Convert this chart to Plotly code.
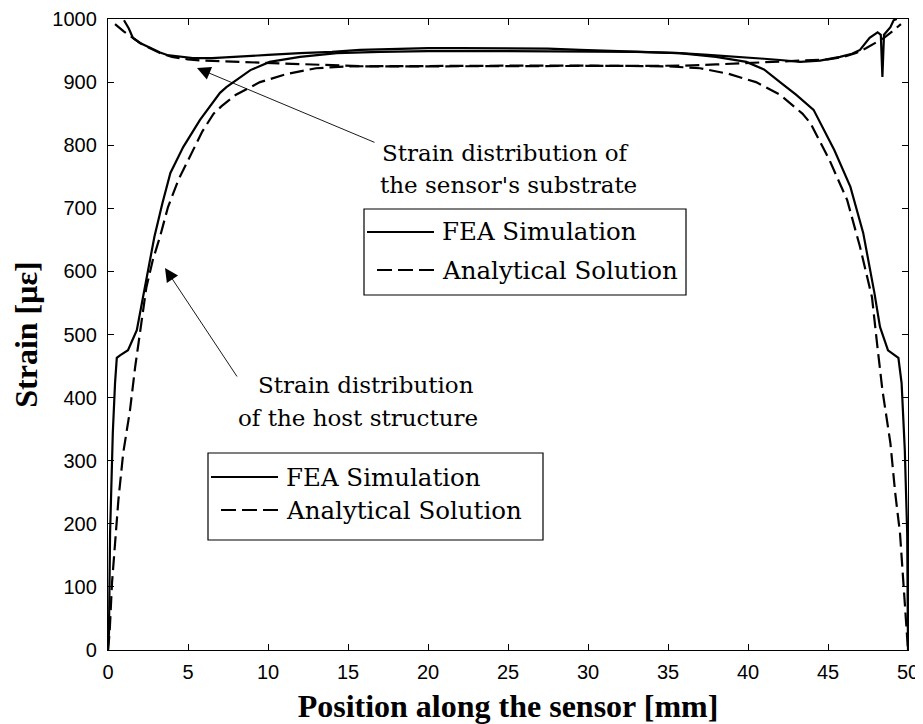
import plotly.graph_objects as go

# ---------------- data ----------------
sub_fea_x = [1.0, 1.3, 1.56, 2.0, 2.6, 3.25, 3.7, 4.5, 5.3, 6.5, 8.25, 10, 12, 14, 15.75, 18, 20, 22, 25,
             27.5, 29.5, 32, 34, 35.75, 37.5, 39.5, 41, 42, 43.25, 44.5, 45.75, 46.5, 47, 47.6, 48.1, 48.3,
             48.4, 48.5, 48.9, 49.1, 49.3]
sub_fea_y = [998, 985, 970, 962, 955, 947, 943, 940, 938, 938, 940, 943, 946, 948, 951, 953, 954, 954, 954,
             953, 951, 949, 947, 946, 943, 940, 937, 935, 932, 934, 940, 945, 951, 970, 979, 975,
             908, 975, 987, 998, 1000]

sub_ana_x = [0.44, 1.0, 1.56, 2.0, 2.6, 3.25, 4, 5, 6, 8, 10, 12, 14, 16, 20, 25, 30, 34, 36, 38, 40, 42,
             44, 45, 46, 46.75, 47.4, 48, 48.5, 49, 49.56]
sub_ana_y = [992, 980, 970, 962, 954, 946, 940, 936, 934, 932, 930, 928, 926, 925, 925, 925, 925, 925, 926,
             928, 930, 932, 934, 936, 940, 946, 954, 962, 970, 980, 992]

host_fea_x = [0, 0.06, 0.13, 0.3, 0.44, 0.55, 0.75, 1.25, 1.8, 2.0, 2.5, 2.9, 3.4, 3.9, 4.7, 5.75, 7.0,
              7.4, 8.9, 10.1, 12, 14.3, 17, 20, 25, 30, 33, 35.7, 38, 39.9, 41, 42, 43, 44.1, 45.4, 46.4,
              47.2, 47.9, 48.25, 48.75, 49.4, 49.6, 49.8, 49.95, 50]
host_fea_y = [0, 27, 185, 344, 423, 463, 467, 475, 507, 534, 597, 655, 708, 756, 797, 840, 883,
              892, 919, 932, 940, 946, 948, 949, 949, 949, 948, 946, 940, 932, 920, 900, 880, 856, 792, 734,
              661, 566, 512, 475, 463, 423, 317, 185, 0]

host_ana_x = [0, 0.1, 0.25, 0.44, 0.65, 0.95, 1.375, 1.7, 2.1, 2.4, 2.8, 3.25, 3.75, 4.4, 5.1, 5.9, 6.6,
              7.1, 8, 9.5, 11.2, 13, 15, 20, 25, 30, 35, 37, 38.8, 40.5, 42, 43.4, 43.9, 45.1, 46.2, 47,
              47.75, 48.06, 48.4, 48.9, 49.2, 49.5, 49.7, 49.9, 50]
host_ana_y = [0, 27, 106, 174, 238, 312, 380, 449, 523, 575, 618, 655, 702, 745, 781, 822, 850,
              862, 880, 900, 913, 922, 925, 926, 926, 926, 925, 922, 913, 900, 880, 850, 835, 776, 713, 639,
              559, 487, 412, 328, 249, 185, 106, 27, 0]

x_ticks = [0, 5, 10, 15, 20, 25, 30, 35, 40, 45, 50]
y_ticks = [0, 100, 200, 300, 400, 500, 600, 700, 800, 900, 1000]

legend_labels = ["FEA Simulation", "Analytical Solution"]

# ---------------- figure ----------------
# page body has an 8px default margin, so the figure is made 8px smaller
OFF = 8
W, H = 923 - OFF, 724 - OFF
SX0, SX1, SY0, SY1 = 108, 908, 19, 650          # plot area in screen pixels
L, R, T, B = SX0 - OFF, W + OFF - SX1, SY0 - OFF, H + OFF - SY1
PW, PH = SX1 - SX0, SY1 - SY0

def px(x):
    return (x - SX0) / PW

def py(y):
    return (SY1 - y) / PH

DASH = "14px,6px"
fig = go.Figure()
fig.add_trace(go.Scatter(x=sub_fea_x, y=sub_fea_y, mode="lines",
                         line=dict(color="black", width=2.2)))
fig.add_trace(go.Scatter(x=sub_ana_x, y=sub_ana_y, mode="lines",
                         line=dict(color="black", width=2.2, dash=DASH)))
fig.add_trace(go.Scatter(x=host_fea_x, y=host_fea_y, mode="lines",
                         line=dict(color="black", width=2.2)))
fig.add_trace(go.Scatter(x=host_ana_x, y=host_ana_y, mode="lines",
                         line=dict(color="black", width=2.2, dash=DASH)))

tick_font = dict(family="Liberation Sans, Arial", size=20, color="black")
title_font = dict(family="Liberation Serif, Times New Roman", size=32, color="black")
txt_font = dict(family="DejaVu Serif", size=23, color="black")
leg_font = dict(family="DejaVu Serif", size=24.5, color="black")

fig.update_layout(
    width=W, height=H, showlegend=False,
    paper_bgcolor="white", plot_bgcolor="white",
    margin=dict(l=L, r=R, t=T, b=B),
    xaxis=dict(range=[0, 50], tickvals=x_ticks, ticks="inside", ticklen=6, tickwidth=1,
               tickcolor="black", showline=True, linecolor="black", linewidth=1.3, mirror="ticks",
               showgrid=False, zeroline=False, tickfont=tick_font, ticklabelstandoff=4, automargin=False,
               title=dict(text="<b>Position along the sensor [mm]</b>", font=title_font, standoff=12)),
    yaxis=dict(range=[0, 1000], tickvals=y_ticks, ticks="inside", ticklen=6, tickwidth=1,
               tickcolor="black", showline=True, linecolor="black", linewidth=1.3, mirror="ticks",
               showgrid=False, zeroline=False, tickfont=tick_font, ticklabelstandoff=6, automargin=False,
               title=dict(text="<b>Strain [με]</b>", font=title_font, standoff=10)),
)

# annotation texts
def text(xp, yp, s, font):
    fig.add_annotation(x=px(xp), y=py(yp), xref="paper", yref="paper", text=s, showarrow=False,
                       font=font, xanchor="center", yanchor="middle")

text(505, 153, "Strain distribution of", txt_font)
text(508, 185, "the sensor's substrate", txt_font)
text(366, 385, "Strain distribution", txt_font)
text(358, 418, "of the host structure", txt_font)

# arrows
fig.add_annotation(x=px(197), y=py(68), xref="paper", yref="paper", ax=179, ay=75, text="",
                   showarrow=True, arrowhead=2, arrowsize=3, arrowwidth=0.9, arrowcolor="black")
fig.add_annotation(x=px(165), y=py(268), xref="paper", yref="paper", ax=73, ay=110, text="",
                   showarrow=True, arrowhead=2, arrowsize=3, arrowwidth=0.9, arrowcolor="black")

# custom legend boxes
def legend_box(x0, y0, x1, y1, ys):
    fig.add_shape(type="rect", xref="paper", yref="paper", x0=px(x0), x1=px(x1), y0=py(y0), y1=py(y1),
                  line=dict(color="black", width=1.2), fillcolor="white", layer="above")
    fig.add_shape(type="line", xref="paper", yref="paper", x0=px(x0 + 3), x1=px(x0 + 70),
                  y0=py(ys[0]), y1=py(ys[0]), line=dict(color="black", width=2.2), layer="above")
    fig.add_shape(type="line", xref="paper", yref="paper", x0=px(x0 + 13), x1=px(x0 + 70),
                  y0=py(ys[1]), y1=py(ys[1]), line=dict(color="black", width=2.2, dash="15px,6px"),
                  layer="above")
    for lab, yy in zip(legend_labels, ys):
        fig.add_annotation(x=px(x0 + 76), y=py(yy), xref="paper", yref="paper", text=lab,
                           showarrow=False, font=leg_font, xanchor="left", yanchor="middle")

legend_box(364, 209, 686, 295, [232, 270])
legend_box(208, 453, 543, 540, [477, 510])

fig.write_html("out.html")
